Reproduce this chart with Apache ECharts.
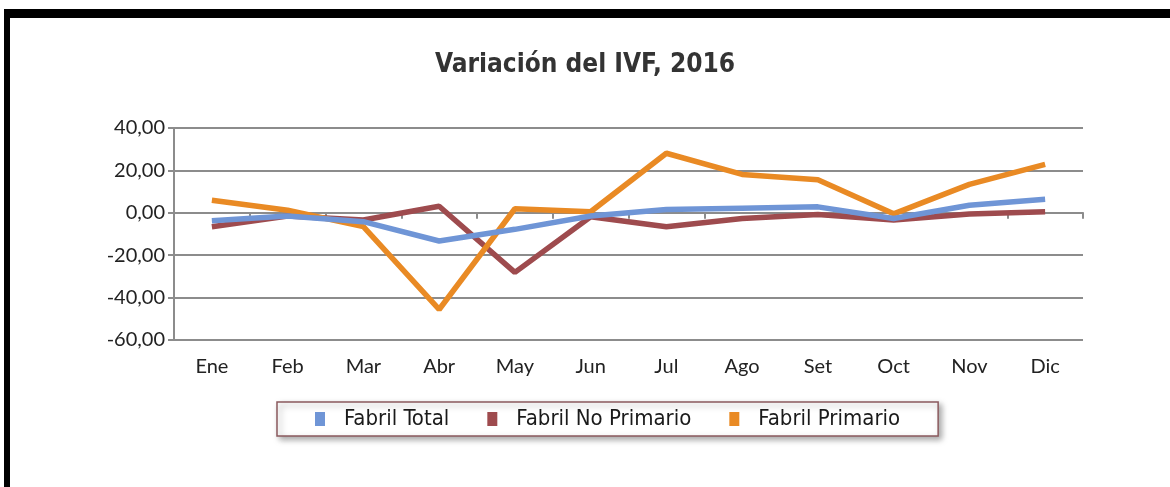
<!DOCTYPE html>
<html>
<head>
<meta charset="utf-8">
<script src="https://cdn.jsdelivr.net/npm/echarts@6/dist/echarts.min.js"></script>
<style>
  html, body { margin: 0; padding: 0; background: #fff; }
  #frame {
    position: absolute; left: 4px; top: 9px; width: 1166px; height: 478px;
    border-top: 9px solid #000; border-left: 6px solid #000; box-sizing: border-box;
  }
  #chart { position: absolute; left: 0; top: 0; width: 1170px; height: 487px; }
</style>
</head>
<body>
<div id="frame"></div>
<div id="chart"></div>
<script>
// datos
const meses = ["Ene", "Feb", "Mar", "Abr", "May", "Jun", "Jul", "Ago", "Set", "Oct", "Nov", "Dic"];
const fabrilTotal = [-3.8, -1.5, -4.2, -13.3, -7.8, -1.5, 1.6, 2.2, 2.8, -2.7, 3.6, 6.4];
const fabrilNoPrimario = [-6.6, -1.5, -3.4, 3.1, -28.1, -1.9, -6.6, -2.7, -0.8, -3.4, -0.6, 0.5];
const fabrilPrimario = [5.9, 1.2, -6.5, -45.6, 1.9, 0.5, 28.1, 18.1, 15.6, -0.5, 13.4, 22.8];
const ejeY = { min: -60, max: 40, interval: 20 };

const fuente = "Lato, 'Open Sans', sans-serif";
const fuenteNarrow = "'DejaVu Sans Condensed', 'Liberation Sans Narrow', sans-serif";
const gris = "#8c8c8c";

const chart = echarts.init(document.getElementById("chart"));

const option = {
  animation: false,
  title: {
    text: "Variación del IVF, 2016",
    left: "center",
    top: 47,
    textStyle: { fontFamily: fuenteNarrow, fontSize: 26, fontWeight: "bold", color: "#333" },
  },
  grid: { left: 174, right: 87, top: 128, bottom: 147 },
  legend: {
    left: 277,
    top: 402,
    icon: "rect",
    itemWidth: 10,
    itemHeight: 14,
    itemGap: 38,
    padding: [6, 38, 6, 38],
    borderColor: "#8b5a5e",
    borderWidth: 1.5,
    backgroundColor: "#fff",
    shadowBlur: 6,
    shadowColor: "rgba(0,0,0,0.35)",
    shadowOffsetX: 3,
    shadowOffsetY: 3,
    textStyle: { fontFamily: fuenteNarrow, fontSize: 22, color: "#1a1a1a", padding: [0, 0, 0, 14] },
    data: ["Fabril Total", "Fabril No Primario", "Fabril Primario"],
  },
  xAxis: [
    {
      type: "category",
      data: meses,
      position: "bottom",
      axisLine: { show: false, onZero: false },
      axisTick: { show: false },
      axisLabel: { fontFamily: fuente, fontSize: 20, color: "#222", margin: 17 },
    },
    {
      type: "category",
      data: meses,
      position: "bottom",
      axisLine: { show: true, onZero: true, lineStyle: { color: gris, width: 2 } },
      axisTick: { show: true, interval: 0, length: 6, lineStyle: { color: gris, width: 2 } },
      axisLabel: { show: false },
    },
  ],
  yAxis: {
    type: "value",
    min: ejeY.min,
    max: ejeY.max,
    interval: ejeY.interval,
    axisLine: { show: true, lineStyle: { color: gris, width: 2 } },
    axisTick: { show: true, length: 6, lineStyle: { color: gris, width: 2 } },
    splitLine: { lineStyle: { color: gris, width: 2 } },
    axisLabel: {
      fontFamily: fuente,
      fontSize: 20,
      color: "#222",
      margin: 9,
      formatter: (v) => v.toFixed(2).replace(".", ","),
    },
  },
  series: [
    {
      name: "Fabril Total",
      type: "line",
      data: fabrilTotal,
      symbol: "none",
      color: "#6f95d6",
      lineStyle: { width: 5.5 },
      z: 3,
    },
    {
      name: "Fabril No Primario",
      type: "line",
      data: fabrilNoPrimario,
      symbol: "none",
      color: "#9e4b4e",
      lineStyle: { width: 5.5 },
      z: 2,
    },
    {
      name: "Fabril Primario",
      type: "line",
      data: fabrilPrimario,
      symbol: "none",
      color: "#e98a24",
      lineStyle: { width: 5.5 },
      z: 2,
    },
  ],
};

chart.setOption(option);
</script>
</body>
</html>
